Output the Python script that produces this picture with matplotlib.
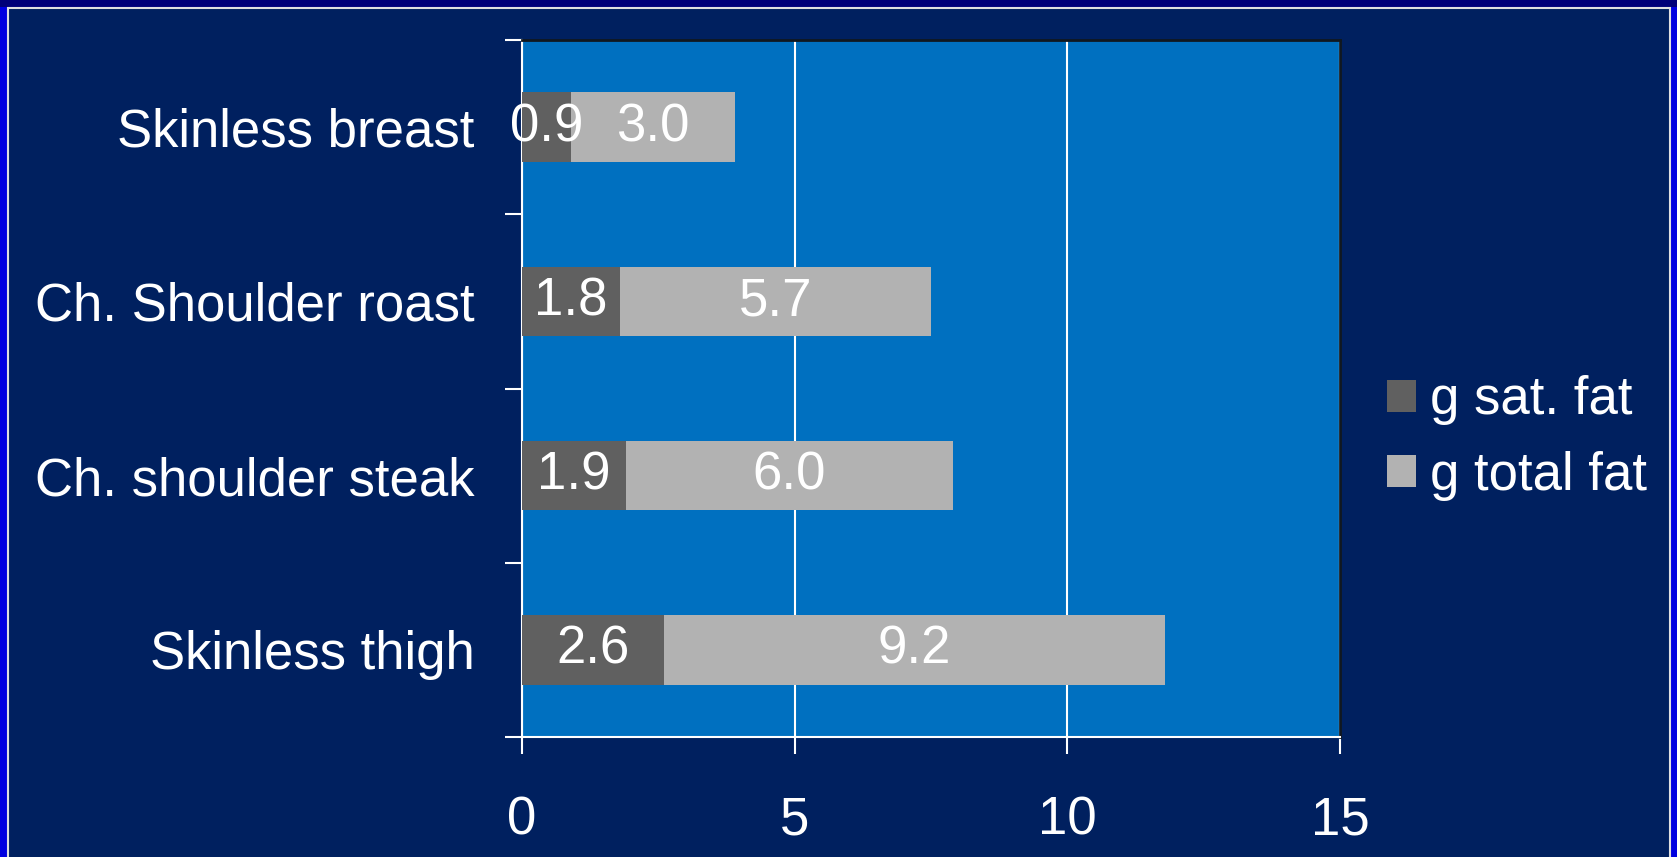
import matplotlib
matplotlib.use("Agg")
import matplotlib.pyplot as plt
from matplotlib.patches import Rectangle
import numpy as np

categories = ["Skinless breast", "Ch. Shoulder roast", "Ch. shoulder steak", "Skinless thigh"]
sat_fat = [0.9, 1.8, 1.9, 2.6]
total_fat = [3.0, 5.7, 6.0, 9.2]
series_names = ["g sat. fat", "g total fat"]
x_ticks = [0, 5, 10, 15]

plt.rcParams['font.family'] = ['Liberation Sans', 'DejaVu Sans']
FS = 38

W, H = 1677, 857
fig = plt.figure(figsize=(W / 100, H / 100), dpi=100, facecolor='#0000B0')
# outer frame
fig.patches.append(Rectangle((0, 0), 1, 1, transform=fig.transFigure,
                             facecolor='#0000E0', edgecolor='none', zorder=-3))
fig.patches.append(Rectangle((0, 1 - 7 / H), 1, 7 / H, transform=fig.transFigure,
                             facecolor='#000078', edgecolor='none', zorder=-2))
fig.patches.append(Rectangle((7.5 / W, -0.05), (W - 15) / W, 1.05 - 7.5 / H,
                             transform=fig.transFigure, facecolor='#00205F',
                             edgecolor='#E0E0E0', linewidth=1.5, zorder=-1))

ax = fig.add_axes([522 / W, 1 - 737 / H, 818 / W, 697 / H])
ax.set_facecolor('#0070C0')

y = np.arange(len(categories))
h = 0.4
b1 = ax.barh(y, sat_fat, height=h, color='#606060', label=series_names[0], zorder=3)
b2 = ax.barh(y, total_fat, left=sat_fat, height=h, color='#B2B2B2',
             label=series_names[1], zorder=3)
for bars, vals in ((b1, sat_fat), (b2, total_fat)):
    ax.bar_label(bars, labels=[f"{v:.1f}" for v in vals], label_type='center',
                 color='white', fontsize=FS, zorder=5)

ax.set_xlim(0, 15)
ax.set_ylim(len(categories) - 0.5, -0.5)
ax.set_xticks(x_ticks)
ax.set_xticklabels([str(t) for t in x_ticks])
ax.xaxis.grid(True, color='white', linewidth=1.5, zorder=1)
ax.set_axisbelow(True)

ax.set_yticks(np.arange(-0.5, len(categories)), minor=False)
ax.set_yticklabels([])
ax.set_yticks(y, minor=True)
ax.set_yticklabels(categories, minor=True)
ax.tick_params(axis='y', which='major', length=12, width=1.5, color='white', direction='out')
ax.tick_params(axis='y', which='minor', length=0, pad=34, labelsize=FS, labelcolor='white')
ax.tick_params(axis='x', length=12, width=1.5, color='white', direction='out',
               pad=30, labelsize=FS, labelcolor='white')

for s in ('left', 'bottom'):
    ax.spines[s].set_color('white')
    ax.spines[s].set_linewidth(1.5)
for s in ('top', 'right'):
    ax.spines[s].set_color('#101820')
    ax.spines[s].set_linewidth(2)

fig.legend(handles=[b1, b2], labels=series_names, loc='center left',
           bbox_to_anchor=(1361 / W, 1 - 438 / H), frameon=False,
           fontsize=FS, labelcolor='white', handlelength=0.55, handleheight=0.55,
           handletextpad=0.25, labelspacing=0.48, borderpad=0)

fig.savefig('out.png', dpi=100, facecolor=fig.get_facecolor())
